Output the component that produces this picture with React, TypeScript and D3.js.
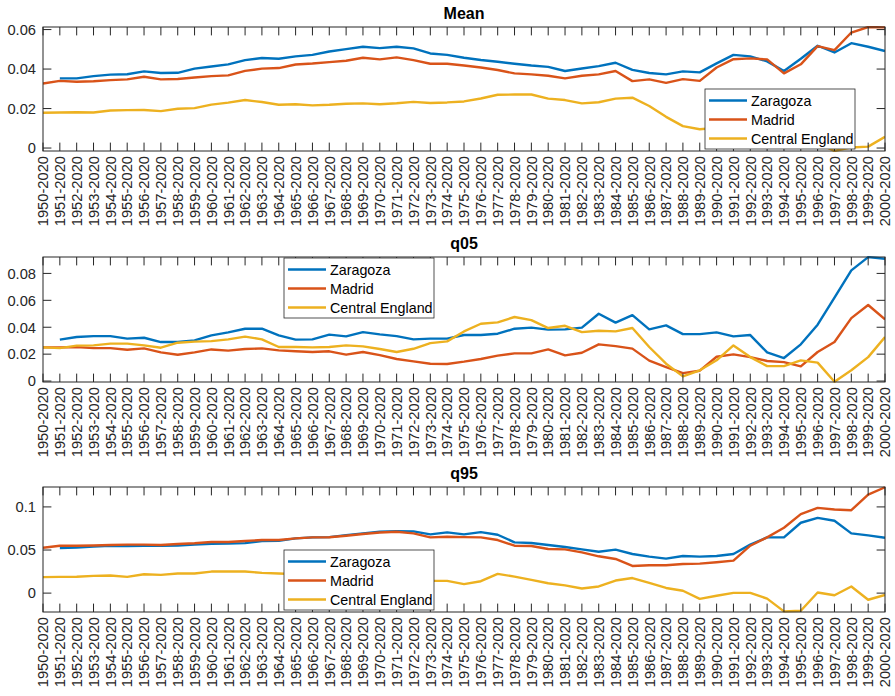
import React from "react";
import * as d3 from "d3";

const categories = [
  "1950-2020","1951-2020","1952-2020","1953-2020","1954-2020","1955-2020","1956-2020","1957-2020","1958-2020","1959-2020",
  "1960-2020","1961-2020","1962-2020","1963-2020","1964-2020","1965-2020","1966-2020","1967-2020","1968-2020","1969-2020",
  "1970-2020","1971-2020","1972-2020","1973-2020","1974-2020","1975-2020","1976-2020","1977-2020","1978-2020","1979-2020",
  "1980-2020","1981-2020","1982-2020","1983-2020","1984-2020","1985-2020","1986-2020","1987-2020","1988-2020","1989-2020",
  "1990-2020","1991-2020","1992-2020","1993-2020","1994-2020","1995-2020","1996-2020","1997-2020","1998-2020","1999-2020",
  "2000-2020",
];

const seriesNames = ["Zaragoza", "Madrid", "Central England"];

const meanZaragoza = [null,0.0353,0.0353,0.0364,0.0372,0.0374,0.0388,0.0380,0.0381,0.0402,
  0.0413,0.0424,0.0445,0.0456,0.0452,0.0464,0.0472,0.0489,0.0501,0.0513,
  0.0506,0.0513,0.0505,0.0479,0.0472,0.0457,0.0446,0.0437,0.0427,0.0418,
  0.0411,0.0390,0.0403,0.0415,0.0432,0.0396,0.0380,0.0373,0.0388,0.0383,
  0.0429,0.0472,0.0464,0.0439,0.0390,0.0452,0.0518,0.0484,0.0531,0.0513,0.0491];
const meanMadrid = [0.0327,0.0340,0.0336,0.0338,0.0344,0.0348,0.0361,0.0348,0.0350,0.0357,
  0.0364,0.0368,0.0391,0.0402,0.0405,0.0423,0.0428,0.0435,0.0442,0.0457,
  0.0449,0.0459,0.0445,0.0427,0.0427,0.0418,0.0408,0.0395,0.0378,0.0373,
  0.0366,0.0353,0.0366,0.0373,0.0390,0.0339,0.0348,0.0330,0.0349,0.0340,
  0.0408,0.0450,0.0454,0.0449,0.0378,0.0424,0.0516,0.0496,0.0585,0.0613,0.0611];
const meanCentralEngland = [0.0179,0.0180,0.0181,0.0180,0.0190,0.0192,0.0193,0.0187,0.0199,0.0202,
  0.0220,0.0230,0.0243,0.0233,0.0219,0.0222,0.0216,0.0219,0.0224,0.0226,
  0.0222,0.0227,0.0234,0.0228,0.0231,0.0236,0.0251,0.0270,0.0271,0.0271,
  0.0250,0.0243,0.0226,0.0232,0.0250,0.0255,0.0213,0.0158,0.0111,0.0095,
  0.0102,0.0085,0.0075,0.0065,0.0050,0.0040,0.0025,-0.0015,0.0003,0.0007,0.0057];

const q05Zaragoza = [null,0.0308,0.0327,0.0334,0.0334,0.0315,0.0322,0.0290,0.0290,0.0302,
  0.0340,0.0362,0.0389,0.0389,0.0340,0.0308,0.0310,0.0345,0.0332,0.0364,
  0.0347,0.0334,0.0310,0.0315,0.0315,0.0342,0.0342,0.0352,0.0389,0.0397,
  0.0382,0.0384,0.0397,0.0500,0.0434,0.0490,0.0384,0.0414,0.0349,0.0349,
  0.0362,0.0332,0.0342,0.0213,0.0171,0.0273,0.0419,0.0620,0.0823,0.0921,0.0909];
const q05Madrid = [0.0250,0.0250,0.0252,0.0245,0.0245,0.0233,0.0243,0.0213,0.0196,0.0213,
  0.0235,0.0226,0.0238,0.0243,0.0228,0.0221,0.0216,0.0221,0.0196,0.0216,
  0.0193,0.0164,0.0146,0.0129,0.0127,0.0144,0.0164,0.0189,0.0206,0.0206,
  0.0235,0.0191,0.0210,0.0273,0.0260,0.0241,0.0152,0.0104,0.0059,0.0077,
  0.0181,0.0198,0.0178,0.0149,0.0141,0.0109,0.0216,0.0290,0.0468,0.0565,0.0458];
const q05CentralEngland = [0.0250,0.0245,0.0263,0.0265,0.0278,0.0278,0.0265,0.0248,0.0285,0.0293,
  0.0297,0.0310,0.0330,0.0310,0.0253,0.0253,0.0250,0.0253,0.0265,0.0258,
  0.0238,0.0216,0.0240,0.0282,0.0295,0.0369,0.0426,0.0436,0.0476,0.0453,
  0.0394,0.0411,0.0364,0.0374,0.0369,0.0394,0.0253,0.0129,0.0035,0.0080,
  0.0154,0.0265,0.0178,0.0111,0.0111,0.0154,0.0137,-0.0005,0.0080,0.0178,0.0327];

const q95Zaragoza = [null,0.0523,0.0530,0.0539,0.0548,0.0546,0.0550,0.0550,0.0552,0.0562,
  0.0573,0.0575,0.0580,0.0604,0.0606,0.0635,0.0647,0.0650,0.0673,0.0693,
  0.0712,0.0719,0.0716,0.0681,0.0704,0.0681,0.0708,0.0677,0.0589,0.0581,
  0.0558,0.0535,0.0508,0.0480,0.0504,0.0454,0.0423,0.0400,0.0431,0.0423,
  0.0431,0.0454,0.0562,0.0647,0.0647,0.0816,0.0873,0.0839,0.0693,0.0670,0.0643];
const q95Madrid = [0.0527,0.0550,0.0550,0.0552,0.0558,0.0562,0.0562,0.0558,0.0570,0.0578,
  0.0593,0.0593,0.0604,0.0616,0.0616,0.0635,0.0647,0.0648,0.0666,0.0685,
  0.0704,0.0712,0.0693,0.0647,0.0654,0.0650,0.0647,0.0616,0.0550,0.0546,
  0.0512,0.0508,0.0473,0.0427,0.0396,0.0315,0.0323,0.0323,0.0338,0.0342,
  0.0358,0.0377,0.0550,0.0647,0.0758,0.0916,0.0989,0.0970,0.0962,0.1143,0.1228];
const q95CentralEngland = [0.0185,0.0189,0.0190,0.0200,0.0204,0.0189,0.0219,0.0212,0.0227,0.0227,
  0.0250,0.0250,0.0250,0.0235,0.0227,0.0220,0.0200,0.0185,0.0175,0.0165,
  0.0160,0.0150,0.0146,0.0142,0.0142,0.0104,0.0138,0.0223,0.0192,0.0154,
  0.0115,0.0090,0.0054,0.0077,0.0146,0.0175,0.0119,0.0060,0.0028,-0.0066,
  -0.0031,0.0003,0.0003,-0.0064,-0.0212,-0.0204,0.0007,-0.0025,0.0077,-0.0077,-0.0021];

const meanTicks = [0, 0.02, 0.04, 0.06];
const q05Ticks = [0, 0.02, 0.04, 0.06, 0.08];
const q95Ticks = [0, 0.05, 0.1];

const colors = ["#0072BD", "#D95319", "#EDB120"];
const FONT = "'Liberation Sans', Arial, Helvetica, sans-serif";
const AX = "#262626";

const W = 895, H = 696;
const LEFT = 43, RIGHT = 885;

const panels = [
  { title: "Mean", top: 27, bottom: 151, domain: [-0.0015, 0.0613], ticks: meanTicks,
    series: [meanZaragoza, meanMadrid, meanCentralEngland], legend: { x: 705, y: 89 } },
  { title: "q05", top: 257, bottom: 382, domain: [-0.0007, 0.0922], ticks: q05Ticks,
    series: [q05Zaragoza, q05Madrid, q05CentralEngland], legend: { x: 284, y: 258 } },
  { title: "q95", top: 487, bottom: 612, domain: [-0.0219, 0.1231], ticks: q95Ticks,
    series: [q95Zaragoza, q95Madrid, q95CentralEngland], legend: { x: 284, y: 550 } },
];

const x = d3.scalePoint<string>().domain(categories).range([LEFT, RIGHT]).padding(0);
const TL = 8.4;

function Panel({ p, idx }: { p: any; idx: number }) {
  const y = d3.scaleLinear().domain(p.domain).range([p.bottom, p.top]);
  const line = d3
    .line<number | null>()
    .defined((d) => d !== null)
    .x((_, i) => x(categories[i]) as number)
    .y((d) => y(d as number));
  const clipId = `clip-${idx}`;
  const lg = p.legend;
  return (
    <g>
      <defs>
        <clipPath id={clipId}>
          <rect x={LEFT} y={p.top - 1} width={RIGHT - LEFT} height={p.bottom - p.top + 2} />
        </clipPath>
      </defs>
      <text x={(LEFT + RIGHT) / 2} y={p.top - 8} textAnchor="middle" fontFamily={FONT}
        fontWeight="bold" fontSize={16} fill="#000">{p.title}</text>
      <g clipPath={`url(#${clipId})`}>
        {p.series.map((s: (number | null)[], k: number) => (
          <path key={k} d={line(s) || ""} fill="none" stroke={colors[k]} strokeWidth={2.4}
            strokeLinejoin="round" />
        ))}
      </g>
      {categories.map((c) => {
        const xx = x(c) as number;
        return (
          <g key={c}>
            <line x1={xx} x2={xx} y1={p.bottom} y2={p.bottom - TL} stroke={AX} strokeWidth={1} />
            <line x1={xx} x2={xx} y1={p.top} y2={p.top + TL} stroke={AX} strokeWidth={1} />
            <text transform={`translate(${xx},${p.bottom + 5}) rotate(-90)`} textAnchor="end"
              dy="0.36em" fontFamily={FONT} fontSize={14.7} fill={AX}>{c}</text>
          </g>
        );
      })}
      {p.ticks.map((t: number) => (
        <g key={t}>
          <line x1={LEFT} x2={LEFT + TL} y1={y(t)} y2={y(t)} stroke={AX} strokeWidth={1} />
          <line x1={RIGHT} x2={RIGHT - TL} y1={y(t)} y2={y(t)} stroke={AX} strokeWidth={1} />
          <text x={LEFT - 7} y={y(t)} dy="0.36em" textAnchor="end" fontFamily={FONT}
            fontSize={14.7} fill={AX}>{d3.format("~g")(t)}</text>
        </g>
      ))}
      <rect x={LEFT} y={p.top} width={RIGHT - LEFT} height={p.bottom - p.top} fill="none"
        stroke={AX} strokeWidth={1} />
      <g>
        <rect x={lg.x} y={lg.y} width={150} height={60} fill="#fff" stroke={AX} strokeWidth={0.8} />
        {seriesNames.map((n, k) => {
          const ry = lg.y + 11.5 + 19 * k;
          return (
            <g key={n}>
              <line x1={lg.x + 4} x2={lg.x + 42} y1={ry} y2={ry} stroke={colors[k]} strokeWidth={2.4} />
              <text x={lg.x + 46} y={ry} dy="0.36em" fontFamily={FONT} fontSize={14.3}
                fill="#000">{n}</text>
            </g>
          );
        })}
      </g>
    </g>
  );
}

export default function App() {
  return (
    <svg width={W} height={H} style={{ position: "absolute", left: 0, top: 0, background: "#fff" }}>
      <rect x={0} y={0} width={W} height={H} fill="#fff" />
      {panels.map((p, i) => (
        <Panel key={p.title} p={p} idx={i} />
      ))}
    </svg>
  );
}
